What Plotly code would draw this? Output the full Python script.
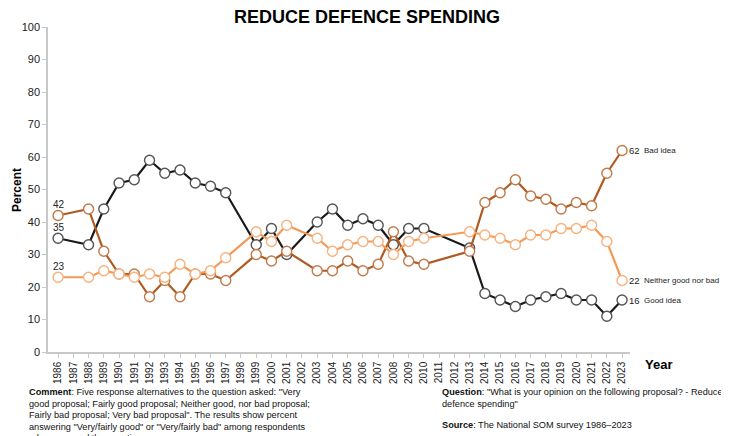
import plotly.graph_objects as go

years = [1986, 1988, 1989, 1990, 1991, 1992, 1993, 1994, 1995, 1996, 1997,
         1999, 2000, 2001, 2003, 2004, 2005, 2006, 2007, 2008, 2009, 2010,
         2013, 2014, 2015, 2016, 2017, 2018, 2019, 2020, 2021, 2022, 2023]
good = [35, 33, 44, 52, 53, 59, 55, 56, 52, 51, 49,
        33, 38, 30, 40, 44, 39, 41, 39, 33, 38, 38,
        32, 18, 16, 14, 16, 17, 18, 16, 16, 11, 16]
bad = [42, 44, 31, 24, 24, 17, 22, 17, 24, 24, 22,
       30, 28, 31, 25, 25, 28, 25, 27, 37, 28, 27,
       31, 46, 49, 53, 48, 47, 44, 46, 45, 55, 62]
neither = [23, 23, 25, 24, 23, 24, 23, 27, 24, 25, 29,
           37, 34, 39, 35, 31, 33, 34, 34, 30, 34, 35,
           37, 36, 35, 33, 36, 36, 38, 38, 39, 34, 22]
series_names = ["Good idea", "Bad idea", "Neither good nor bad"]
tick_years = list(range(1986, 2024))
tick_labels = [str(y) for y in tick_years]
y_ticks = list(range(0, 101, 10))

comment_lines = [
    "<b>Comment</b>: Five response alternatives to the question asked: \"Very",
    "good proposal; Fairly good proposal; Neither good, nor bad proposal;",
    "Fairly bad proposal; Very bad proposal\". The results show percent",
    "answering \"Very/fairly good\" or \"Very/fairly bad\" among respondents",
    "who answered the question.",
]
question_lines = [
    "<b>Question</b>: \"What is your opinion on the following proposal? - Reduce",
    "defence spending\"",
]
source_text = "<b>Source</b>: The National SOM survey 1986–2023"

FONT = "Liberation Sans, Arial, sans-serif"
colors = {"Good idea": "#1a1a1a", "Bad idea": "#b05a22", "Neither good nor bad": "#f59a55"}
marker_lines = {"Good idea": "#555555", "Bad idea": "#c07a4a", "Neither good nor bad": "#f7b27e"}

# page body has an 8px margin; the figure is sized so it fills the window
OFF = 8
W, H = 729 - OFF, 436 - OFF
# plot area in window pixels
L, R, T, B = 48, 630, 27, 352

def px(x):
    return (x - L) / (R - L)

def py(y):
    return (B - y) / (B - T)

fig = go.Figure()
for name, vals in [("Good idea", good), ("Bad idea", bad), ("Neither good nor bad", neither)]:
    fig.add_trace(go.Scatter(
        x=years, y=vals, mode="lines+markers", name=name,
        line=dict(color=colors[name], width=2.2),
        marker=dict(symbol="circle", size=10, color="white",
                    line=dict(color=marker_lines[name], width=1.4)),
        showlegend=False, cliponaxis=False,
    ))

annotations = []
annotations.append(dict(text="<b>REDUCE DEFENCE SPENDING</b>", xref="paper", yref="paper",
                        x=px(367), y=py(17), xanchor="center", yanchor="middle",
                        showarrow=False, font=dict(family=FONT, size=18, color="#000")))
annotations.append(dict(text="<b>Percent</b>", xref="paper", yref="paper",
                        x=px(17), y=py(190), xanchor="center", yanchor="middle", textangle=-90,
                        showarrow=False, font=dict(family=FONT, size=12, color="#000")))
annotations.append(dict(text="<b>Year</b>", xref="paper", yref="paper",
                        x=px(643), y=py(364), xanchor="left", yanchor="middle",
                        showarrow=False, font=dict(family=FONT, size=13, color="#000")))

for vals in [bad, good, neither]:
    annotations.append(dict(text=str(vals[0]), xref="x", yref="y", x=years[0], y=vals[0],
                            xanchor="left", yanchor="middle", xshift=-7, yshift=11,
                            showarrow=False, font=dict(family=FONT, size=10, color="#222")))
for name, vals in [("Bad idea", bad), ("Neither good nor bad", neither), ("Good idea", good)]:
    annotations.append(dict(text=str(vals[-1]), xref="x", yref="y", x=years[-1], y=vals[-1],
                            xanchor="left", yanchor="middle", xshift=5,
                            showarrow=False, font=dict(family=FONT, size=9.5, color="#222")))
    annotations.append(dict(text=name, xref="x", yref="y", x=years[-1], y=vals[-1],
                            xanchor="left", yanchor="middle", xshift=21, borderpad=0,
                            showarrow=False, font=dict(family=FONT, size=8, color="#222")))

for i, line in enumerate(comment_lines):
    annotations.append(dict(text=line, xref="paper", yref="paper", x=px(27), y=py(392 + 11.6 * i),
                            xanchor="left", yanchor="middle", align="left", showarrow=False,
                            font=dict(family=FONT, size=9.2, color="#111")))
for i, line in enumerate(question_lines):
    annotations.append(dict(text=line, xref="paper", yref="paper", x=px(440), y=py(392 + 11.6 * i),
                            xanchor="left", yanchor="middle", align="left", showarrow=False,
                            font=dict(family=FONT, size=9.2, color="#111")))
annotations.append(dict(text=source_text, xref="paper", yref="paper",
                        x=px(440), y=py(425), xanchor="left", yanchor="middle", align="left",
                        showarrow=False, font=dict(family=FONT, size=9.2, color="#111")))

fig.update_layout(
    width=W, height=H,
    margin=dict(l=L - OFF, r=729 - R, t=T - OFF, b=436 - B, pad=0),
    paper_bgcolor="white", plot_bgcolor="white",
    font=dict(family=FONT, size=11, color="#222"),
    annotations=annotations,
    xaxis=dict(range=[1985.34, 2023.52], tickmode="array", tickvals=tick_years, ticktext=tick_labels,
               tickangle=-90, tickfont=dict(size=10, color="#222"),
               showgrid=False, zeroline=False, showline=True, linecolor="#c8c8c8", linewidth=1.5,
               ticks="outside", ticklen=4, tickcolor="#c8c8c8"),
    yaxis=dict(range=[0, 100], tickmode="array", tickvals=y_ticks,
               tickfont=dict(size=11, color="#222"),
               showgrid=False, zeroline=False, showline=True, linecolor="#c8c8c8", linewidth=1.5,
               ticks="outside", ticklen=4, tickcolor="#c8c8c8"),
)

fig.write_html("out.html")
